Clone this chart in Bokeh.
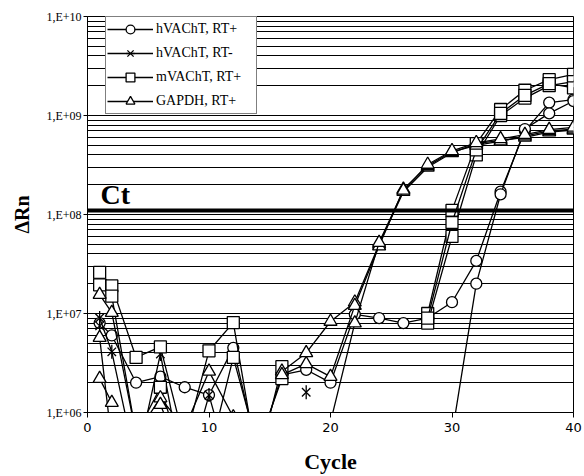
import math
import numpy as np
from bokeh.plotting import figure
from bokeh.models import (FixedTicker, CustomJSTickFormatter, Span, Legend,
                          LegendItem, Range1d, Label)
from bokeh.embed import file_html
from bokeh.resources import INLINE

nan = float("nan")

# ---- data (values below 1E+06 are off-scale) ----
cycles = [1, 2, 4, 6, 8, 10, 12, 14, 16, 18, 20, 22, 24, 26, 28, 30, 32, 34, 36, 38, 40]

hvacht_rtp_1 = [8.0e6, 6.0e6, 2.0e6, 2.3e6, 1.8e6, 1.5e6, 4.5e6, 4.0e5, 2.4e6, 2.7e6, 2.0e6,
                9.8e6, 9.0e6, 8.0e6, 9.0e6, 1.3e7, 3.4e7, 1.7e8, 7.0e8, 1.35e9, 1.45e9]
hvacht_rtp_2 = [nan, nan, nan, nan, nan, nan, nan, nan, nan, nan, nan,
                nan, nan, nan, nan, 6.0e5, 2.0e7, 1.6e8, 7.3e8, 1.05e9, 1.4e9]

hvacht_rtm_1 = [9.0e6, 4.1e6, 3.0e5, 3.9e6, 2.0e5, 1.5e6, 2.0e5, nan, nan, 1.6e6, nan,
                nan, nan, nan, nan, nan, nan, nan, nan, nan, nan]
hvacht_rtm_2 = [7.5e6, nan, nan, nan, nan, nan, nan, nan, nan, nan, nan,
                nan, nan, nan, nan, nan, nan, nan, nan, nan, nan]

mvacht_rtp_1 = [2.6e7, 1.9e7, 3.6e6, 4.6e6, 5.0e5, 4.2e6, 8.1e6, 3.0e5, 2.9e6, nan, nan,
                nan, nan, nan, 1.0e7, 1.1e8, 5.2e8, 1.15e9, 1.8e9, 2.3e9, 2.6e9]
mvacht_rtp_2 = [1.95e7, 1.5e7, 6.0e5, 1.8e6, 3.0e5, 3.7e5, 3.6e6, 4.5e5, 2.2e6, nan, nan,
                nan, nan, nan, 8.0e6, 6.0e7, 4.0e8, 1.0e9, 1.5e9, 2.0e9, 2.2e9]
mvacht_rtp_3 = [nan, nan, nan, nan, nan, nan, nan, nan, nan, nan, nan,
                nan, nan, nan, 9.0e6, 8.3e7, 4.5e8, 1.05e9, 1.6e9, 2.1e9, 1.9e9]

gapdh_rtp_1 = [1.55e7, 1.02e7, 6.0e5, 1.4e6, 7.0e5, 2.6e6, 9.0e5, nan, 2.6e6, 4.0e6, 8.3e6,
               1.3e7, 5.0e7, 1.7e8, 3.0e8, 4.2e8, 5.2e8, 5.6e8, 6.0e8, 6.8e8, 7.1e8]
gapdh_rtp_2 = [5.7e6, 5.0e5, nan, 1.2e6, 3.0e5, nan, nan, nan, 2.4e6, 3.1e6, 2.3e6,
               1.2e7, 4.8e7, 1.8e8, 3.1e8, 4.3e8, 5.0e8, 5.5e8, 6.2e8, 7.0e8, 7.3e8]
gapdh_rtp_3 = [2.2e6, 1.26e6, nan, nan, nan, nan, nan, nan, nan, nan, 8.0e5,
               8.0e6, 5.2e7, 1.75e8, 3.2e8, 4.4e8, 5.3e8, 5.8e8, 6.4e8, 7.2e8, 7.6e8]

ct_threshold = 1.1e8

series_labels = ["hVAChT, RT+", "hVAChT, RT-", "mVAChT, RT+", "GAPDH, RT+"]
x_ticks = [0, 10, 20, 30, 40]
y_major = [1e6, 1e7, 1e8, 1e9, 1e10]
y_minor = [m * d for d in [1e6, 1e7, 1e8, 1e9] for m in range(2, 10)]

series = [
    (series_labels[0], "circle", 11, [hvacht_rtp_1, hvacht_rtp_2]),
    (series_labels[1], "x", 12, [hvacht_rtm_1, hvacht_rtm_2]),
    (series_labels[2], "square", 12, [mvacht_rtp_1, mvacht_rtp_2, mvacht_rtp_3]),
    (series_labels[3], "triangle", 13, [gapdh_rtp_1, gapdh_rtp_2, gapdh_rtp_3]),
]

SERIF = "Liberation Serif"

p = figure(width=584, height=476, y_axis_type="log",
           x_range=Range1d(0, 40), y_range=Range1d(1e6, 1e10),
           output_backend="svg", toolbar_location=None,
           min_border_left=87, min_border_right=11, min_border_top=16, min_border_bottom=10)
p.background_fill_color = "white"
p.border_fill_color = "white"
p.outline_line_color = "black"
p.outline_line_width = 1

# axes
p.xaxis.ticker = FixedTicker(ticks=x_ticks)
p.xaxis.major_label_text_font = "DejaVu Sans"
p.xaxis.major_label_text_font_size = "13px"
p.xaxis.major_label_text_color = "black"
p.xaxis.major_tick_out = 5
p.xaxis.major_tick_in = 0
p.xaxis.minor_tick_line_color = None
p.xaxis.major_label_standoff = 5
p.xaxis.axis_label = "Cycle"
p.xaxis.axis_label_text_font = SERIF
p.xaxis.axis_label_text_font_style = "bold"
p.xaxis.axis_label_text_font_size = "22px"
p.xaxis.axis_label_text_color = "black"
p.xaxis.axis_label_standoff = 14

p.yaxis.ticker = FixedTicker(ticks=y_major, minor_ticks=y_minor)
p.yaxis.formatter = CustomJSTickFormatter(
    code="var e = Math.round(Math.log10(tick)); return '1,E+' + (e < 10 ? '0' + e : e);")
p.yaxis.major_label_text_font = SERIF
p.yaxis.major_label_text_font_size = "12px"
p.yaxis.major_label_text_color = "black"
p.yaxis.major_tick_out = 4
p.yaxis.major_tick_in = 0
p.yaxis.minor_tick_line_color = None
p.yaxis.major_label_standoff = 2
p.yaxis.axis_label = "ΔRn"
p.yaxis.axis_label_text_font = SERIF
p.yaxis.axis_label_text_font_style = "bold"
p.yaxis.axis_label_text_font_size = "20px"
p.yaxis.axis_label_text_color = "black"
p.yaxis.axis_label_standoff = 10

for ax in (p.xaxis, p.yaxis):
    ax.axis_line_color = "black"
    ax.major_tick_line_color = "black"

p.xgrid.grid_line_color = None
p.ygrid.grid_line_color = "black"
p.ygrid.grid_line_alpha = 1
p.ygrid.minor_grid_line_color = "black"
p.ygrid.grid_line_width = 1
p.ygrid.minor_grid_line_width = 1

# Ct threshold
p.add_layout(Span(location=ct_threshold, dimension="width", line_color="black", line_width=4))
p.add_layout(Label(x=13, x_units="screen", y=ct_threshold, text="Ct",
                   text_font=SERIF, text_font_style="bold", text_font_size="28px",
                   text_color="black", text_baseline="bottom", y_offset=0))

legend_items = []
x = np.array(cycles, dtype=float)
for label, marker, size, reps in series:
    first = None
    for vals in reps:
        y = np.array(vals, dtype=float)
        lr = p.line(x, y, line_color="black", line_width=1.3)
        sr = p.scatter(x, y, marker=marker, size=size, fill_color="white",
                       line_color="black", line_width=1.3)
        rends = [lr, sr]
        if marker == "x":
            # six-armed star: an "x" plus a vertical stroke
            vr = p.scatter(x, y, marker="dash", size=size + 2, angle=math.pi / 2,
                           line_color="black", line_width=1.3)
            rends.append(vr)
        if first is None:
            first = rends
    legend_items.append(LegendItem(label=label, renderers=first))

legend = Legend(items=legend_items, location=(18, 298),
                border_line_color="black", border_line_width=1,
                background_fill_color="white", background_fill_alpha=1,
                label_text_font=SERIF, label_text_font_size="14px", label_text_color="black",
                glyph_width=46, glyph_height=22, label_height=22, label_width=99,
                label_standoff=3, spacing=2, padding=1, margin=0)
p.add_layout(legend)

open("out.html", "w").write(file_html(p, INLINE))
